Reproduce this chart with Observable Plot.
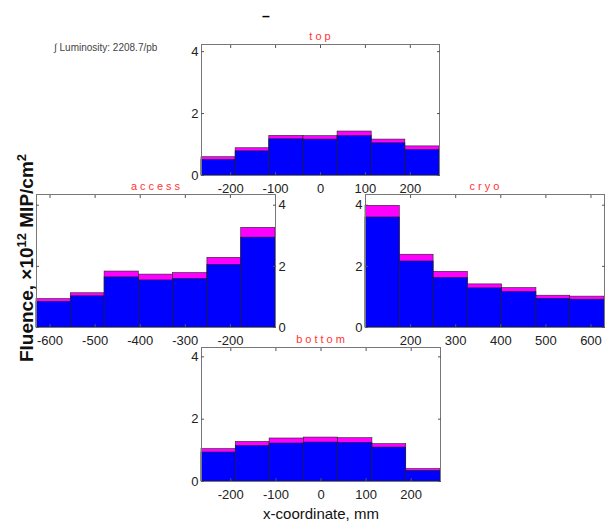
<!DOCTYPE html>
<html><head><meta charset="utf-8">
<script src="https://cdn.jsdelivr.net/npm/d3@7"></script>
<script src="https://cdn.jsdelivr.net/npm/@observablehq/plot@0.6"></script>
<style>
body{margin:0;background:#fff;}
#chart{position:relative;width:606px;height:521px;overflow:hidden;font-family:"Liberation Sans",Arial,sans-serif;}
#chart svg{position:absolute;left:0;top:0;}
.lbl{position:absolute;white-space:nowrap;line-height:1;}
.ttl{position:absolute;white-space:nowrap;line-height:1;color:#ff3333;font-size:11px;letter-spacing:3px;transform:translate(-50%,-50%);font-family:"Liberation Sans",Arial,sans-serif;}
</style></head><body><div id="chart"></div>
<script>
// ---- data ----
const panelNames = ["top", "access", "cryo", "bottom"];
const centralEdges = [-265, -189, -114, -38, 38, 114, 189, 265];
const accessEdges = [-630, -554, -479, -403, -327, -251, -176, -100];
const cryoEdges = [100, 176, 251, 327, 403, 479, 554, 630];
const centralTicks = [-200, -100, 0, 100, 200];
const accessTicks = [-600, -500, -400, -300, -200];
const cryoTicks = [200, 300, 400, 500, 600];
const yTicks = [0, 2, 4];

// blue = main component, total = blue + magenta component (fluence, 1e12 MIP/cm^2)
const topBlue = [0.50, 0.78, 1.17, 1.16, 1.27, 1.04, 0.82];
const topTotal = [0.59, 0.88, 1.28, 1.27, 1.42, 1.16, 0.94];
const accessBlue = [0.84, 1.02, 1.64, 1.54, 1.59, 2.05, 2.94];
const accessTotal = [0.93, 1.12, 1.83, 1.73, 1.78, 2.28, 3.26];
const cryoBlue = [3.60, 2.16, 1.62, 1.28, 1.16, 0.94, 0.91];
const cryoTotal = [3.98, 2.38, 1.82, 1.41, 1.29, 1.04, 1.01];
const bottomBlue = [0.93, 1.14, 1.22, 1.25, 1.24, 1.09, 0.34];
const bottomTotal = [1.04, 1.27, 1.38, 1.41, 1.39, 1.20, 0.40];

const luminosityText = "\u222B Luminosity: 2208.7/pb";
const xLabel = "x-coordinate, mm";

// ---- layout ----
const W = 606, H = 521;
const configs = [
  {name: "top", edges: centralEdges, ticks: centralTicks, blue: topBlue, total: topTotal, box: [201, 439, 44, 175], ymax: 4.23, yAnchor: "left"},
  {name: "access", edges: accessEdges, ticks: accessTicks, blue: accessBlue, total: accessTotal, box: [36, 275, 194, 327], ymax: 4.35, yAnchor: "right"},
  {name: "cryo", edges: cryoEdges, ticks: cryoTicks, blue: cryoBlue, total: cryoTotal, box: [365, 604, 194, 327], ymax: 4.35, yAnchor: "left"},
  {name: "bottom", edges: centralEdges, ticks: centralTicks, blue: bottomBlue, total: bottomTotal, box: [201, 440, 347, 481], ymax: 4.3, yAnchor: "left"}
];

const chart = document.getElementById("chart");
const fmt = d => String(d);

for (const cfg of configs) {
  const rows = cfg.blue.map((b, i) => ({x1: cfg.edges[i], x2: cfg.edges[i + 1], blue: b, total: cfg.total[i]}));
  const [l, r, t, b] = cfg.box;
  const svg = Plot.plot({
    width: W, height: H,
    marginLeft: l, marginRight: W - r, marginTop: t, marginBottom: H - b,
    style: {background: "transparent", fontFamily: "\"Liberation Sans\",Arial,sans-serif", fontSize: "13px", color: "#222"},
    x: {domain: [cfg.edges[0], cfg.edges[cfg.edges.length - 1]], label: null},
    y: {domain: [0, cfg.ymax], label: null},
    marks: [
      Plot.rect(rows, {x1: "x1", x2: "x2", y1: 0, y2: "total", fill: "#ff00ff", stroke: "#222", strokeWidth: 0.6}),
      Plot.rect(rows, {x1: "x1", x2: "x2", y1: 0, y2: "blue", fill: "#0000ff", stroke: "#222", strokeWidth: 0.6}),
      Plot.frame({stroke: "#777", strokeWidth: 1}),
      // tick labels
      Plot.axisX({anchor: "bottom", ticks: cfg.ticks, tickFormat: fmt, tickSize: 0, tickPadding: 8, label: null, fontSize: 13}),
      Plot.axisY({anchor: cfg.yAnchor, ticks: yTicks, tickFormat: fmt, tickSize: 0, tickPadding: 3, label: null, fontSize: 13}),
      // inward tick marks on all sides
      Plot.axisX({anchor: "bottom", ticks: cfg.ticks, tickSize: -3, tickFormat: () => "", label: null, stroke: "#555"}),
      Plot.axisX({anchor: "top", ticks: cfg.ticks, tickSize: -3, tickFormat: () => "", label: null, stroke: "#555"}),
      Plot.axisY({anchor: "left", ticks: yTicks, tickSize: -3, tickFormat: () => "", label: null, stroke: "#555"}),
      Plot.axisY({anchor: "right", ticks: yTicks, tickSize: -3, tickFormat: () => "", label: null, stroke: "#555"})
    ]
  });
  chart.appendChild(svg);
  const ttl = document.createElement("div");
  ttl.className = "ttl";
  ttl.textContent = cfg.name;
  ttl.style.left = ((l + r) / 2 + 1.5) + "px";
  ttl.style.top = (t - 8) + "px";
  chart.appendChild(ttl);
}

function addLabel(html, css) {
  const d = document.createElement("div");
  d.className = "lbl";
  d.innerHTML = html;
  Object.assign(d.style, css);
  chart.appendChild(d);
  return d;
}
addLabel(luminosityText, {left: "54px", top: "43px", fontSize: "10px", color: "#444"});
addLabel("\u2013", {left: "262px", top: "9px", fontSize: "14px", fontWeight: "bold", color: "#000"});
addLabel(xLabel, {left: "321px", top: "513px", fontSize: "15px", color: "#111", transform: "translate(-50%,-50%)"});
addLabel("Fluence, \u00D710<sup style='font-size:13px;vertical-align:0.5em;line-height:0'>12</sup> MIP/cm<sup style='font-size:13px;vertical-align:0.5em;line-height:0'>2</sup>",
  {left: "26px", top: "258px", fontSize: "19px", fontWeight: "bold", color: "#111", transform: "translate(-50%,-50%) rotate(-90deg)"});
</script></body></html>
